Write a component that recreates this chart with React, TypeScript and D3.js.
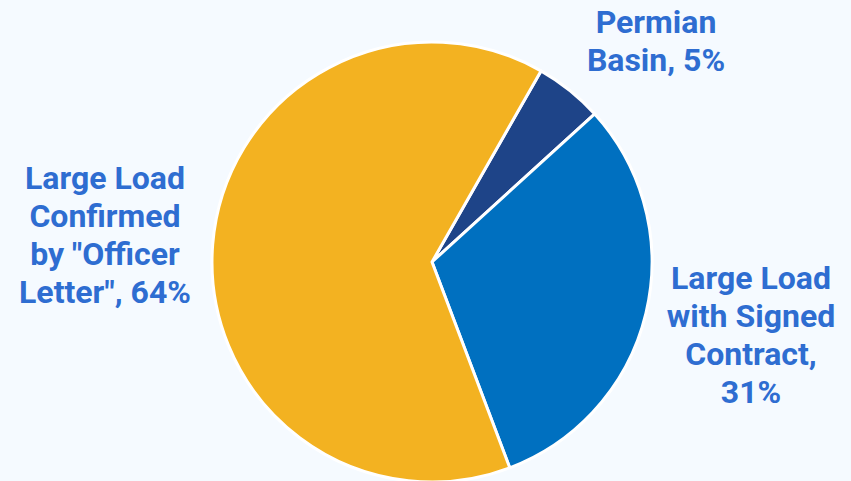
import React from "react";
import * as d3 from "d3";

const categories = ["Permian Basin", "Large Load with Signed Contract", 'Large Load Confirmed by "Officer Letter"'];
const values = [5, 31, 64];
const labelLines = [
  ["Permian", "Basin, 5%"],
  ["Large Load", "with Signed", "Contract,", "31%"],
  ["Large Load", "Confirmed", 'by "Officer', 'Letter", 64%'],
];
const colors = ["#1E4488", "#0070C0", "#F3B221"];

const W = 851;
const H = 481;
const cx = 432;
const cy = 262;
const R = 220;
const startDeg = 29.7;

// label anchor (center x, first baseline y)
const labelPos: [number, number][] = [
  [656, 33],
  [751, 289],
  [105, 189],
];
const lineH = 38;

export default function App() {
  const pie = d3
    .pie<number>()
    .sort(null)
    .value((d) => d)
    .startAngle((startDeg * Math.PI) / 180)
    .endAngle((startDeg * Math.PI) / 180 + 2 * Math.PI);
  const arcs = pie(values);
  const arc = d3.arc<d3.PieArcDatum<number>>().innerRadius(0).outerRadius(R);

  return (
    <svg
      width={W}
      height={H}
      style={{ position: "absolute", left: 0, top: 0, background: "#F5FAFF" }}
    >
      <rect x={0} y={0} width={W} height={H} fill="#F5FAFF" />
      <g transform={`translate(${cx},${cy})`}>
        {arcs.map((a, i) => (
          <path
            key={categories[i]}
            d={arc(a) || ""}
            fill={colors[i]}
            stroke="#FFFFFF"
            strokeWidth={3}
            strokeLinejoin="round"
          />
        ))}
      </g>
      {labelLines.map((lines, i) => (
        <text
          key={i}
          x={labelPos[i][0]}
          y={labelPos[i][1]}
          textAnchor="middle"
          fontFamily="Roboto, sans-serif"
          fontWeight={700}
          fontSize={32}
          fill="#2E6DD1"
        >
          {lines.map((l, j) => (
            <tspan key={j} x={labelPos[i][0]} y={labelPos[i][1] + j * lineH}>
              {l}
            </tspan>
          ))}
        </text>
      ))}
    </svg>
  );
}
